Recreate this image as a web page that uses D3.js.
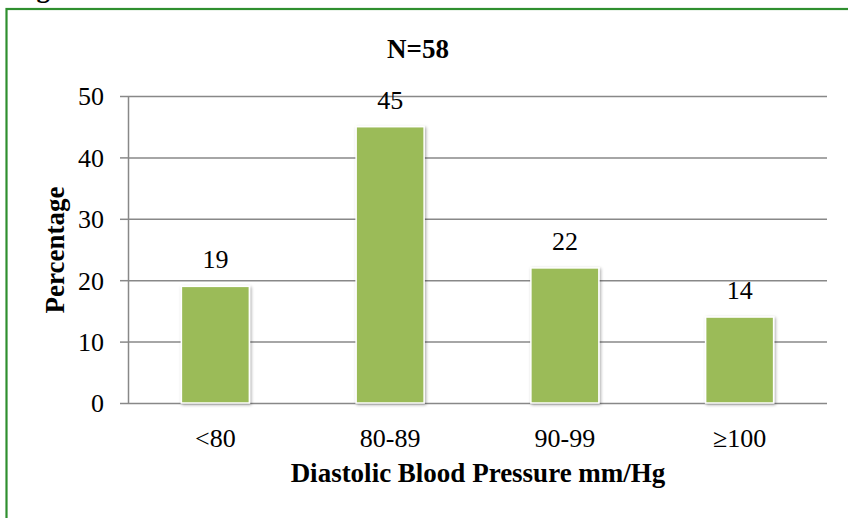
<!DOCTYPE html>
<html>
<head>
<meta charset="utf-8">
<script src="https://cdn.jsdelivr.net/npm/d3@7"></script>
<style>
  html, body { margin: 0; padding: 0; background: #fff; }
  svg { display: block; }
</style>
</head>
<body>
<svg id="chart" width="848" height="518"></svg>
<script>
const categories = ["<80", "80-89", "90-99", "\u2265100"];
const values = [19, 45, 22, 14];
const yTicks = [0, 10, 20, 30, 40, 50];
const chartTitle = "N=58";
const xTitle = "Diastolic Blood Pressure mm/Hg";
const yTitle = "Percentage";

const FONT = "'Liberation Serif', 'Times New Roman', Times, serif";
const svg = d3.select("#chart");
const W = 848, H = 518;
const m = { left: 128, right: 21, top: 96, bottom: 115 };

// outer frame (extends past the right and bottom edges, as in the reference)
svg.append("rect").attr("x", 6.5).attr("y", 9).attr("width", 900).attr("height", 600)
  .attr("fill", "none").attr("stroke", "#2f8f2f").attr("stroke-width", 2.2);
// caption above the frame, cut off at the top edge in the reference
svg.append("text").attr("x", 50).attr("y", -3).attr("text-anchor", "end")
  .style("font-family", FONT).style("font-size", "27px").style("font-weight", "bold").text("Fig");

const defs = svg.append("defs");
const f = defs.append("filter").attr("id", "shadow").attr("x", "-20%").attr("y", "-20%").attr("width", "140%").attr("height", "140%");
f.append("feDropShadow").attr("dx", 1.2).attr("dy", 1.2).attr("stdDeviation", 1.6)
  .attr("flood-color", "#000").attr("flood-opacity", 0.35);

const x = d3.scaleBand().domain(categories).range([m.left, W - m.right])
  .paddingInner(0.611).paddingOuter(0.3055);
const y = d3.scaleLinear().domain([0, 50]).range([H - m.bottom, m.top]);

// gridlines
const grid = svg.append("g")
  .attr("transform", `translate(${m.left},0)`)
  .call(d3.axisLeft(y).tickValues(yTicks).tickSize(-(W - m.right - m.left)).tickFormat(""));
grid.select(".domain").remove();
grid.selectAll("line").attr("stroke", "#888").attr("stroke-width", 1.5);

// y axis
const yAxis = svg.append("g")
  .attr("transform", `translate(${m.left},0)`)
  .call(d3.axisLeft(y).tickValues(yTicks).tickSize(8).tickPadding(16).tickSizeOuter(0));
yAxis.attr("font-family", null).attr("font-size", null);
yAxis.select(".domain").attr("stroke", "#888").attr("stroke-width", 1.5);
yAxis.selectAll("line").attr("stroke", "#888").attr("stroke-width", 1.5);
yAxis.selectAll("text").style("font-family", FONT).style("font-size", "26px").attr("fill", "#000").attr("dy", "0.34em");

// bars
svg.append("g").selectAll("rect").data(values).join("rect")
  .attr("x", (d, i) => x(categories[i]))
  .attr("y", d => y(d))
  .attr("width", x.bandwidth())
  .attr("height", d => y(0) - y(d))
  .attr("fill", "#9bbb59")
  .attr("stroke", "#fff").attr("stroke-width", 1.5)
  .attr("filter", "url(#shadow)");

// value labels
svg.append("g").selectAll("text").data(values).join("text")
  .attr("x", (d, i) => x(categories[i]) + x.bandwidth() / 2)
  .attr("y", d => y(d) - 18)
  .attr("text-anchor", "middle")
  .style("font-family", FONT).style("font-size", "26px")
  .text(d => d);

// x axis labels
const xAxis = svg.append("g")
  .attr("transform", `translate(0,${y(0)})`)
  .call(d3.axisBottom(x).tickSize(0).tickPadding(0));
xAxis.attr("font-family", null).attr("font-size", null);
xAxis.select(".domain").remove();
xAxis.selectAll("text").style("font-family", FONT).style("font-size", "26px").attr("fill", "#000")
  .attr("dy", null).attr("y", 44);

// titles
svg.append("text").attr("x", 418).attr("y", 58).attr("text-anchor", "middle")
  .style("font-family", FONT).style("font-size", "27px").style("font-weight", "bold").text(chartTitle);
svg.append("text").attr("x", 478).attr("y", 482).attr("text-anchor", "middle")
  .style("font-family", FONT).style("font-size", "27px").style("font-weight", "bold").text(xTitle);
svg.append("text").attr("transform", "translate(64,250) rotate(-90)").attr("text-anchor", "middle")
  .style("font-family", FONT).style("font-size", "27px").style("font-weight", "bold").text(yTitle);
</script>
</body>
</html>
